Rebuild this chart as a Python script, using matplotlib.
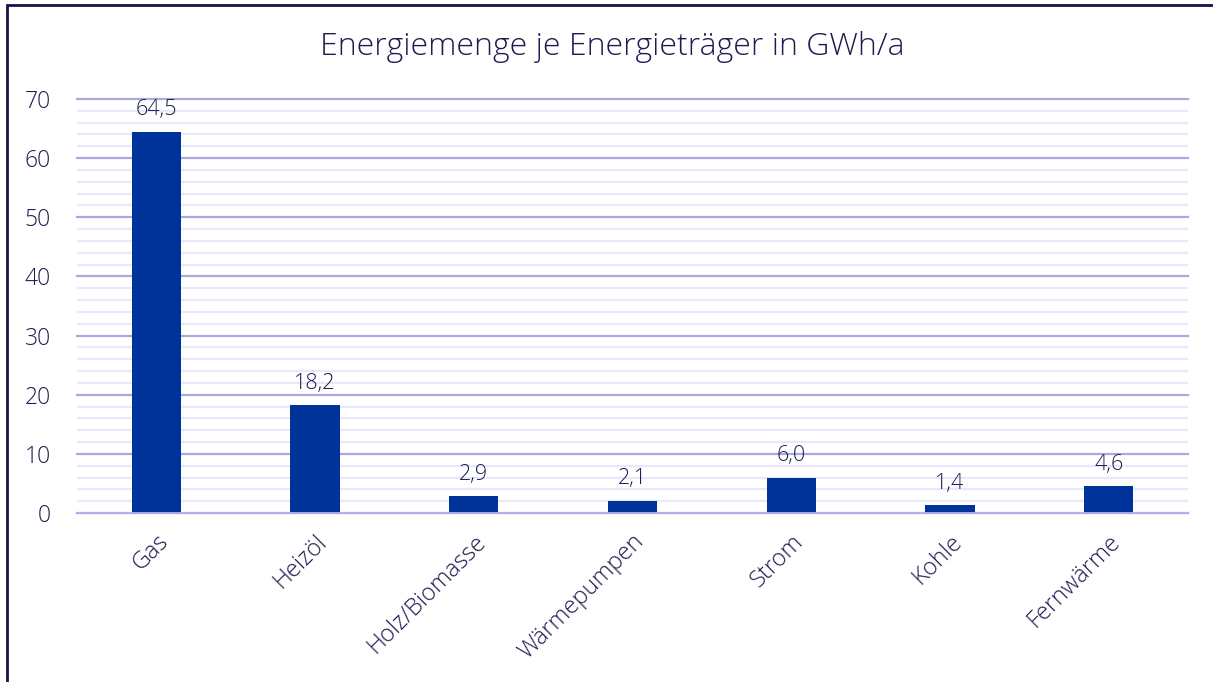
import numpy as np
import matplotlib
matplotlib.use("Agg")
import matplotlib.pyplot as plt
from matplotlib.patches import Rectangle

# data
categories = ["Gas", "Heizöl", "Holz/Biomasse", "Wärmepumpen", "Strom", "Kohle", "Fernwärme"]
values = [64.5, 18.2, 2.9, 2.1, 6.0, 1.4, 4.6]
yticks = [0, 10, 20, 30, 40, 50, 60, 70]

text_col = "#1c1c50"
bar_col = "#003399"

plt.rcParams['font.family'] = ['Open Sans', 'DejaVu Sans']
plt.rcParams['font.weight'] = 300

fig = plt.figure(figsize=(12.13, 6.82), dpi=100)
ax = fig.add_axes([77/1213, 1-513/682, (1188-77)/1213, (513-99)/682])

x = np.arange(len(categories))
ax.bar(x, values, width=0.31, color=bar_col, zorder=3)
for xi, v in zip(x, values):
    ax.annotate(f"{v:.1f}".replace(".", ","), (xi, v), xytext=(0, 8), textcoords="offset points",
                ha="center", va="bottom", fontsize=15.5, color=text_col)

ax.set_xlim(-0.5, len(categories) - 0.5)
ax.set_ylim(0, 70)
ax.set_yticks(yticks)
ax.set_yticks(np.arange(0, 71, 2), minor=True)
ax.grid(axis='y', which='minor', color='#e8e8fb', lw=1.6, zorder=0)
ax.grid(axis='y', which='major', color='#a9a9e2', lw=1.6, zorder=1)
for gl in ax.yaxis.get_gridlines():
    gl.set_clip_on(False)
for s in ax.spines.values():
    s.set_visible(False)
ax.axhline(0, color='#b8b8f0', lw=2, zorder=4)
ax.tick_params(axis='both', which='both', length=0)
ax.tick_params(axis='y', pad=19, labelsize=16.5, labelcolor=text_col)
ax.set_xticks(x)
ax.set_xticklabels(categories, rotation=45, ha='right', rotation_mode='anchor',
                   fontsize=17, color=text_col)
ax.tick_params(axis='x', pad=12)

fig.text(612/1213, 1-47/682, "Energiemenge je Energieträger in GWh/a", ha='center', va='center',
         fontsize=23, color=text_col)

# frame around the chart
fig.patches.append(Rectangle((7/1213, -0.1), 1.2, 1.1 - 5/682, transform=fig.transFigure,
                             fill=False, edgecolor='#14144b', lw=2))

fig.savefig("out.png", dpi=100)
